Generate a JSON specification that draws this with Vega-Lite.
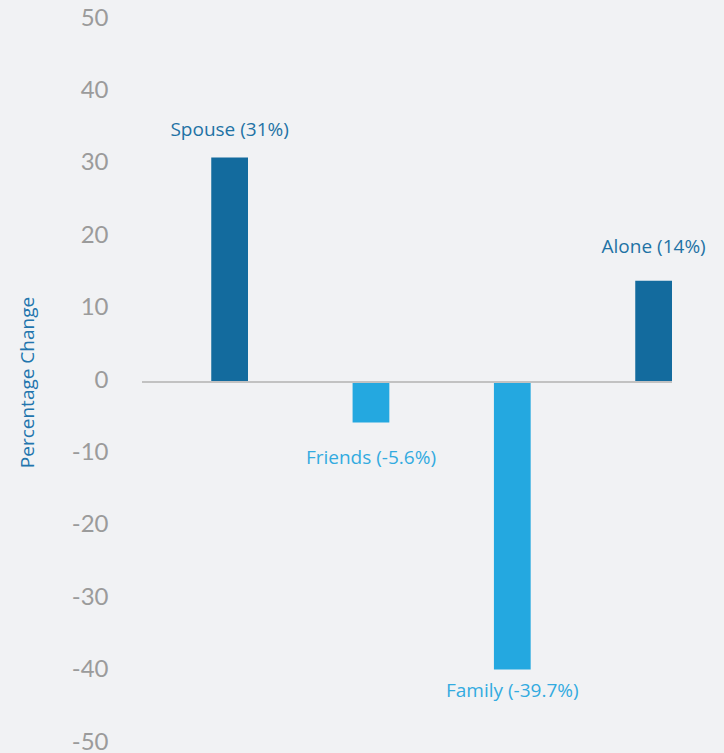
{
  "$schema": "https://vega.github.io/schema/vega-lite/v6.json",
  "autosize": {"type": "none"},
  "padding": {"left": 142, "top": 20, "right": 52, "bottom": 9},
  "width": 530,
  "height": 724,
  "background": "#f1f2f4",
  "config": {"view": {"stroke": null}, "font": "Open Sans"},
  "data": {
    "values": [
      {"Category": "Spouse", "Value": 31, "Label": "Spouse (31%)", "Group": "up"},
      {"Category": "Friends", "Value": -5.6, "Label": "Friends (-5.6%)", "Group": "down"},
      {"Category": "Family", "Value": -39.7, "Label": "Family (-39.7%)", "Group": "down"},
      {"Category": "Alone", "Value": 14, "Label": "Alone (14%)", "Group": "up"}
    ]
  },
  "encoding": {
    "x": {
      "field": "Category",
      "type": "nominal",
      "sort": ["Spouse", "Friends", "Family", "Alone"],
      "scale": {"paddingInner": 0.74, "paddingOuter": 0.245, "align": 1},
      "axis": null
    },
    "y": {
      "field": "Value",
      "type": "quantitative",
      "scale": {"domain": [-50, 50], "nice": false},
      "axis": {
        "title": "Percentage Change",
        "values": [-50, -40, -30, -20, -10, 0, 10, 20, 30, 40, 50],
        "labelExpr": "'' + datum.value",
        "domain": false,
        "ticks": false,
        "tickSize": 0,
        "grid": false,
        "labelPadding": 34,
        "labelOffset": -2,
        "labelFontSize": 24,
        "labelColor": "#9b9b9b",
        "labelFont": "Lato",
        "titleFont": "Open Sans",
        "titleFontSize": 19,
        "titleFontWeight": "normal",
        "titleColor": "#2275ad",
        "titleX": -109,
        "titleY": 362,
        "titleAngle": -90,
        "titleAlign": "center",
        "titleBaseline": "alphabetic"
      }
    }
  },
  "layer": [
    {
      "mark": {"type": "bar"},
      "encoding": {
        "color": {
          "field": "Group",
          "type": "nominal",
          "scale": {"domain": ["up", "down"], "range": ["#136b9e", "#24a8e0"]},
          "legend": null
        }
      }
    },
    {
      "mark": {"type": "rule", "color": "#c2c2c2", "strokeWidth": 1.5},
      "encoding": {"y": {"datum": 0}, "x": null}
    },
    {
      "transform": [{"filter": "datum.Category === 'Spouse'"}],
      "mark": {"type": "text", "font": "Open Sans", "fontSize": 19, "color": "#1f72a5", "baseline": "alphabetic", "dy": -21.5},
      "encoding": {"text": {"field": "Label"}}
    },
    {
      "transform": [{"filter": "datum.Category === 'Alone'"}],
      "mark": {"type": "text", "font": "Open Sans", "fontSize": 19, "color": "#1f72a5", "baseline": "alphabetic", "dy": -28},
      "encoding": {"text": {"field": "Label"}}
    },
    {
      "transform": [{"filter": "datum.Category === 'Friends'"}],
      "mark": {"type": "text", "font": "Open Sans", "fontSize": 19, "color": "#33abe0", "baseline": "alphabetic", "dy": 41},
      "encoding": {"text": {"field": "Label"}}
    },
    {
      "transform": [{"filter": "datum.Category === 'Family'"}],
      "mark": {"type": "text", "font": "Open Sans", "fontSize": 19, "color": "#33abe0", "baseline": "alphabetic", "dy": 28},
      "encoding": {"text": {"field": "Label"}}
    }
  ]
}
